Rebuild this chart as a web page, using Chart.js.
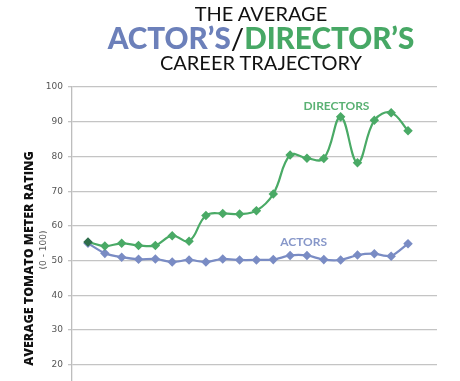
<!DOCTYPE html>
<html><head><meta charset="utf-8">
<script src="https://cdn.jsdelivr.net/npm/chart.js@4/dist/chart.umd.min.js"></script>
<style>
html,body{margin:0;padding:0;background:#fff;overflow:hidden;width:460px;height:381px}
#wrap{position:absolute;left:0;top:0;width:460px;height:410px}
.t{position:absolute;left:0;width:522px;text-align:center;font-family:Lato,"Open Sans",sans-serif;color:#111;white-space:nowrap}
#ylab{position:absolute;font-family:"Open Sans",Lato,sans-serif;font-weight:800;font-size:12.5px;color:#111;transform:rotate(-90deg);transform-origin:center;white-space:nowrap}
#ysub{position:absolute;font-family:"DejaVu Sans",sans-serif;font-size:9px;color:#555;transform:rotate(-90deg);transform-origin:center;white-space:nowrap}
</style></head><body>
<div id="wrap"><canvas id="c" width="460" height="410"></canvas></div>
<div class="t" style="top:1px;font-size:20px;line-height:24px">THE AVERAGE</div>
<div class="t" style="top:21px;font-size:29.6px;line-height:34px;font-weight:900"><span style="color:#6c80ba">ACTOR’S</span><span style="font-weight:400">/</span><span style="color:#47a865">DIRECTOR’S</span></div>
<div class="t" style="top:50px;font-size:20px;line-height:24px">CAREER TRAJECTORY</div>
<div id="ylab" style="left:-80px;top:250px;width:216px;text-align:center">AVERAGE TOMATO METER RATING</div>
<div id="ysub" style="left:13px;top:245px;width:60px;text-align:center">(0 - 100)</div>
<script>
const films = ["1","2","3","4","5","6","7","8","9","10","11","12","13","14","15","16","17","18","19","20"];
const directors = [55.4,54.2,55.0,54.4,54.4,57.2,55.6,63.0,63.6,63.4,64.4,69.2,80.4,79.5,79.4,91.4,78.2,90.4,92.6,87.4];
const actors = [55.0,52.1,51.0,50.4,50.5,49.6,50.2,49.6,50.5,50.2,50.2,50.3,51.5,51.5,50.3,50.2,51.6,52.0,51.3,54.9];
const yTicks = [10,20,30,40,50,60,70,80,90,100];

const GREEN = "#4aaa66", BLUE = "#7a8cc4";
const toXY = arr => arr.map((v,i)=>({x:i,y:v}));

const labelsPlugin = {
  id:"seriesLabels",
  afterDatasetsDraw(chart){
    const {ctx, scales:{x,y}} = chart;
    ctx.save();
    ctx.font = "bold 12px Lato, 'Open Sans', sans-serif";
    ctx.textAlign = "center"; ctx.textBaseline = "middle";
    ctx.fillStyle = "#5ab173";
    ctx.fillText("DIRECTORS", x.getPixelForValue(14.75), y.getPixelForValue(94.4));
    ctx.fillStyle = "#8797c9";
    ctx.fillText("ACTORS", x.getPixelForValue(12.8), y.getPixelForValue(55.4));
    ctx.restore();
  }
};

new Chart(document.getElementById("c"), {
  type:"line",
  data:{
    datasets:[
      {label:"Directors", data:toXY(directors), borderColor:GREEN, backgroundColor:GREEN,
       pointBackgroundColor: directors.map((v,i)=> i===0 ? "#2f6e4c" : GREEN),
       pointBorderColor: directors.map((v,i)=> i===0 ? "#2f6e4c" : GREEN),
       borderWidth:2.2, tension:0.4, pointStyle:"rectRot", pointRadius:3.2, order:1},
      {label:"Actors", data:toXY(actors), borderColor:BLUE, backgroundColor:BLUE,
       borderWidth:2.2, tension:0.2, pointStyle:"rectRot", pointRadius:3.2, order:2}
    ]
  },
  options:{
    responsive:false, animation:false, devicePixelRatio:1,
    layout:{padding:{top:87,right:23,bottom:4.6,left:0}},
    plugins:{legend:{display:false}, tooltip:{enabled:false}, title:{display:false}},
    scales:{
      x:{type:"linear", min:-0.95, max:20.72, display:false, labels:films},
      y:{min:10, max:100,
         afterBuildTicks: s => { s.ticks = yTicks.map(v=>({value:v})); },
         afterFit: s => { s.width = 72; },
         ticks:{color:"#555", font:{family:"DejaVu Sans", size:9}, padding:5},
         grid:{color:"#c4c4c4", lineWidth:1.3, tickLength:4, drawTicks:true},
         border:{color:"#bdbdbd", width:1.3}
      }
    }
  },
  plugins:[labelsPlugin]
});
</script>
</body></html>
